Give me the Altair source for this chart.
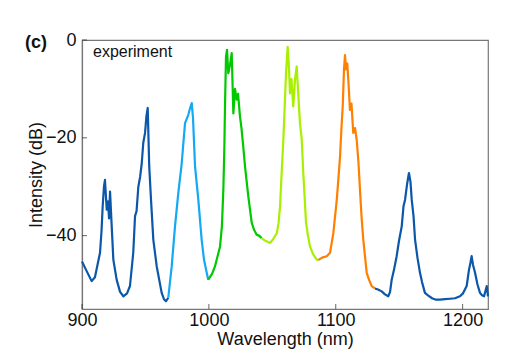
import altair as alt
import pandas as pd

# Spectrum, split into coloured segments
wl_1 = [900.0, 903.2, 907.6, 910.2, 914.2, 915.4, 916.3, 917.3, 918.1, 919.5, 920.5, 921.3, 922.1, 923.4, 924.7,
        927.3, 930.0, 932.6, 935.5, 937.8, 940.4, 941.8, 943.0, 944.4, 945.8, 947.1, 948.3, 949.7, 950.8, 951.8,
        952.4, 953.0, 954.4, 956.2, 958.9, 962.8, 964.6, 966.2, 968.0]
db_1 = [-45.3, -47.0, -49.3, -48.5, -43.5, -39.0, -34.0, -30.0, -28.6, -34.7, -33.0, -36.5, -31.0, -38.0, -44.9,
        -49.0, -51.5, -52.4, -51.8, -50.3, -43.5, -36.0, -35.0, -30.0, -28.0, -25.2, -21.0, -19.0, -15.5, -13.9,
        -20.0, -25.9, -32.7, -40.8, -46.3, -51.7, -53.0, -53.4, -52.7]

wl_2 = [968.0, 970.7, 973.3, 975.9, 978.6, 981.2, 983.8, 985.1, 986.5, 987.5, 989.1, 991.7, 994.3,
        996.2, 998.3, 999.5]
db_2 = [-52.7, -46.3, -38.1, -31.3, -25.2, -17.0, -15.3, -14.0, -12.9, -16.0, -25.9, -32.7, -40.8,
        -45.0, -47.6, -49.0]

wl_3 = [999.5, 1002.5, 1004.8, 1008.8, 1010.3, 1011.4, 1012.2, 1012.7, 1013.5, 1014.3, 1015.3,
        1016.7, 1018.0, 1019.3, 1020.6, 1021.9, 1023.0, 1024.5, 1025.7, 1027.1, 1028.5, 1031.1,
        1033.8, 1035.6, 1037.7, 1039.5, 1041.6]
db_3 = [-49.0, -47.8, -46.3, -42.2, -38.0, -30.6, -22.0, -13.6, -3.4, -2.0, -6.8,
        -5.0, -2.7, -15.0, -10.0, -12.2, -11.0, -15.6, -18.0, -21.8, -25.9, -32.0,
        -37.4, -38.8, -39.8, -40.0, -40.5]

wl_4 = [1041.6, 1044.2, 1048.2, 1050.5, 1053.5, 1054.9, 1056.1, 1057.2, 1058.7, 1060.0, 1060.8,
        1062.1, 1063.2, 1063.9, 1065.1, 1066.5, 1067.9, 1069.2, 1070.2, 1071.8, 1073.2, 1074.4,
        1076.6, 1078.1, 1079.7, 1082.1, 1085.0, 1086.2]
db_4 = [-40.5, -41.0, -41.5, -40.8, -39.5, -37.5, -34.0, -28.0, -20.4, -12.0, -6.8,
        -1.4, -6.0, -10.9, -8.0, -13.6, -8.0, -5.4, -10.0, -17.0, -20.4, -27.2,
        -37.4, -40.0, -42.2, -43.8, -44.9, -45.0]

wl_5 = [1086.2, 1089.2, 1092.9, 1095.5, 1098.1, 1100.8, 1102.2, 1103.4, 1104.5, 1105.5, 1106.5,
        1107.3, 1108.1, 1109.1, 1110.1, 1111.2, 1112.4, 1113.8, 1115.2, 1116.5, 1117.9, 1119.1,
        1120.3, 1121.7, 1124.4, 1126.2, 1128.3, 1130.9]
db_5 = [-45.0, -44.5, -44.2, -43.5, -39.5, -32.7, -28.0, -23.8, -18.0, -13.6, -6.0,
        -3.1, -6.0, -4.8, -9.0, -14.3, -13.0, -19.0, -18.0, -20.4, -25.0, -30.6,
        -36.0, -40.8, -47.6, -49.0, -50.3, -50.8]

wl_6 = [1130.9, 1133.3, 1136.2, 1138.8, 1141.4, 1142.8, 1144.1, 1145.9, 1148.0, 1149.9, 1152.0,
        1153.4, 1154.6, 1156.2, 1157.7, 1158.9, 1159.9, 1161.3, 1162.5, 1164.4, 1166.4, 1168.0,
        1170.3, 1172.7, 1175.9, 1179.0, 1182.2, 1186.1, 1190.1, 1194.0, 1197.9, 1200.3, 1203.2,
        1205.0, 1206.2, 1207.1, 1208.2, 1209.8, 1211.7, 1213.7, 1215.3, 1216.9, 1219.0, 1220.0]
db_6 = [-50.8, -51.0, -51.4, -52.0, -52.4, -51.5, -49.0, -47.0, -44.2, -41.0, -38.1,
        -34.0, -32.7, -29.5, -27.2, -29.0, -32.7, -36.0, -40.8, -44.5, -47.6, -49.5,
        -51.7, -52.2, -52.8, -53.1, -53.1, -53.0, -52.9, -52.8, -52.4, -51.8, -50.3,
        -47.0, -45.5, -44.2, -46.0, -47.6, -50.0, -51.7, -52.2, -52.4, -50.3, -52.4]

segments = ["s1", "s2", "s3", "s4", "s5", "s6"]
seg_colors = ["#0b57a9", "#14a9f5", "#00c900", "#a8ef00", "#ff8000", "#0b57a9"]
x_ticks = [900, 1000, 1100, 1200]
y_ticks = [0, -20, -40]

rows = []
for seg, wl, db in zip(segments, [wl_1, wl_2, wl_3, wl_4, wl_5, wl_6],
                       [db_1, db_2, db_3, db_4, db_5, db_6]):
    for i, (w, d) in enumerate(zip(wl, db)):
        rows.append({"seg": seg, "wl": w, "db": d, "order": i})
df = pd.DataFrame(rows)

W, H = 406, 269
FONT = "Liberation Sans"

xscale = alt.Scale(domain=[900, 1220], nice=False, zero=False)
yscale = alt.Scale(domain=[-55, 0], nice=False, zero=False)

common = dict(labelFont=FONT, titleFont=FONT, labelFontSize=18, titleFontSize=18,
              labelColor="#111", titleColor="#111", titleFontWeight="normal",
              domainColor="#777", domainWidth=1.2, ticks=False, grid=False,
              labelFlush=False, format="d")

line = alt.Chart(df).mark_line(strokeWidth=2.2, strokeJoin="round").encode(
    x=alt.X("wl:Q", scale=xscale,
            axis=alt.Axis(values=x_ticks, title="Wavelength (nm)",
                          labelPadding=2, titlePadding=1, **common)),
    y=alt.Y("db:Q", scale=yscale,
            axis=alt.Axis(values=y_ticks, title="Intensity (dB)",
                          labelPadding=6, titlePadding=0, **common)),
    color=alt.Color("seg:N", scale=alt.Scale(domain=segments, range=seg_colors), legend=None),
    detail="seg:N",
    order="order:Q",
)

xt = alt.Chart(pd.DataFrame({"t": x_ticks})).mark_tick(
    orient="vertical", size=5, thickness=1, color="#222"
).encode(x=alt.X("t:Q", scale=xscale), y=alt.value(H - 2.5))

yt = alt.Chart(pd.DataFrame({"t": y_ticks})).mark_tick(
    orient="horizontal", size=5, thickness=1, color="#222"
).encode(y=alt.Y("t:Q", scale=yscale), x=alt.value(2.5))

label = alt.Chart(pd.DataFrame({"t": ["experiment"]})).mark_text(
    align="left", baseline="alphabetic", fontSize=16, font=FONT, color="#111"
).encode(text="t:N", x=alt.value(11), y=alt.value(17))

panel = alt.Chart(pd.DataFrame({"t": ["(c)"]})).mark_text(
    align="left", baseline="alphabetic", fontSize=18, fontWeight="bold", font=FONT, color="#111"
).encode(text="t:N", x=alt.value(-57), y=alt.value(8))

chart = alt.layer(line, xt, yt, label, panel).properties(
    width=W, height=H,
    padding={"left": 82, "top": 40, "right": 22, "bottom": 42},
    autosize="none",
    background="white",
).configure_view(stroke="#777", strokeWidth=1.2)

chart.save("out.html", embed_options={"renderer": "svg", "actions": False})
